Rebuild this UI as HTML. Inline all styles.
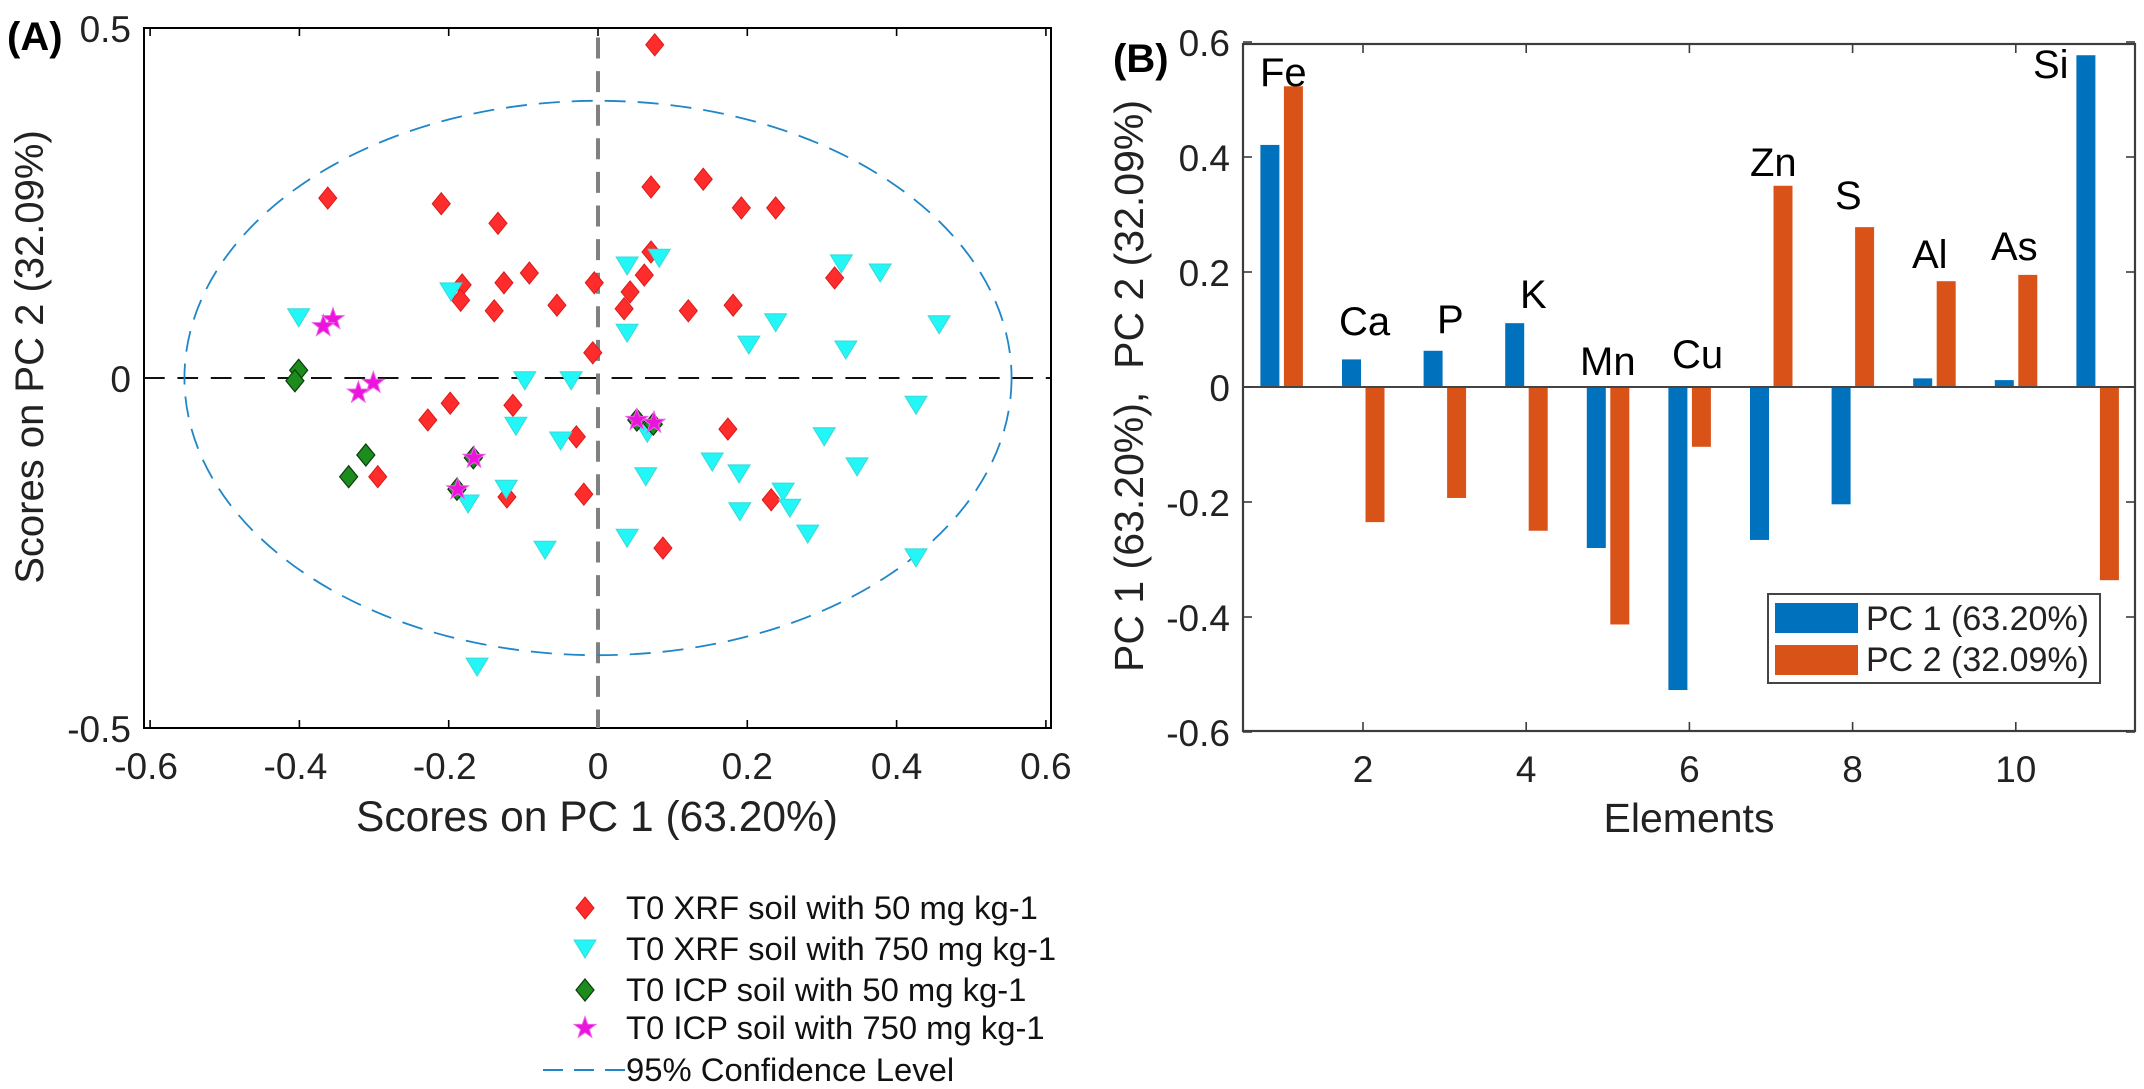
<!DOCTYPE html>
<html lang="en">
<head>
<meta charset="utf-8">
<title>PCA scores and loadings</title>
<style>
html,body{margin:0;padding:0;background:#fff;}
svg{display:block;}
text{font-family:"Liberation Sans",Arial,sans-serif;fill:#111;white-space:pre;}
.tick{font-size:37px;fill:#222;}
.axl{font-size:42px;fill:#222;}
.lbl{font-size:40px;fill:#000;}
.leg{font-size:32.8px;fill:#111;}
.pcl{font-size:34px;fill:#222;}
.pan{font-size:40px;font-weight:bold;fill:#000;}
</style>
</head>
<body>
<svg id="fig" width="2144" height="1089" viewBox="0 0 2144 1089" xmlns="http://www.w3.org/2000/svg">
  <rect width="2144" height="1089" fill="#fff"/>
  <g id="panelA"></g>
  <g id="panelB"></g>

  <text class="pan" x="7" y="50">(A)</text>
  <text class="pan" x="1113" y="72">(B)</text>

  <text class="axl" x="597" y="831" text-anchor="middle" style="font-size:42.5px">Scores on PC 1 (63.20%)</text>
  <text class="axl" transform="translate(43,357) rotate(-90)" text-anchor="middle" style="font-size:40px">Scores on PC 2 (32.09%)</text>
  <text class="axl" x="1689" y="832" text-anchor="middle" style="font-size:41px">Elements</text>
  <text class="axl" transform="translate(1143,386) rotate(-90)" text-anchor="middle" style="font-size:41px">PC 1 (63.20%),  PC 2 (32.09%)</text>

  <g>
    <text class="lbl" x="1260" y="86">Fe</text>
    <text class="lbl" x="1339" y="335">Ca</text>
    <text class="lbl" x="1437" y="333">P</text>
    <text class="lbl" x="1520" y="308">K</text>
    <text class="lbl" x="1580" y="375">Mn</text>
    <text class="lbl" x="1672" y="368">Cu</text>
    <text class="lbl" x="1750" y="176">Zn</text>
    <text class="lbl" x="1835" y="209">S</text>
    <text class="lbl" x="1912" y="268">Al</text>
    <text class="lbl" x="1991" y="260">As</text>
    <text class="lbl" x="2033" y="78">Si</text>
  </g>

  <g id="legendA">
    <text class="leg" x="626" y="919">T0 XRF soil with 50 mg kg-1</text>
    <text class="leg" x="626" y="960">T0 XRF soil with 750 mg kg-1</text>
    <text class="leg" x="626" y="1001">T0 ICP soil with 50 mg kg-1</text>
    <text class="leg" x="626" y="1039">T0 ICP soil with 750 mg kg-1</text>
    <text class="leg" x="626" y="1081">95% Confidence Level</text>
    <line x1="543" y1="1070" x2="625" y2="1070" stroke="#1f86c8" stroke-width="2" stroke-dasharray="20 11"/>
  </g>

  <g id="legendB">
    <rect x="1768" y="594" width="332" height="89" fill="#fff" stroke="#444" stroke-width="2"/>
    <rect x="1775" y="603" width="83" height="30" fill="#0072BD"/>
    <rect x="1775" y="645" width="83" height="30" fill="#D95319"/>
    <text class="pcl" x="1866" y="630">PC 1 (63.20%)</text>
    <text class="pcl" x="1866" y="671">PC 2 (32.09%)</text>
  </g>
</svg>

<script>
// ---- Panel A data (PC1, PC2 scores) ----
const xrf50X = [0.076,-0.362,-0.210,-0.134,0.071,0.141,0.192,0.238,0.071,0.062,0.043,0.035,-0.092,-0.126,-0.182,-0.184,-0.005,-0.139,-0.055,0.121,0.181,0.317,-0.007,-0.198,-0.114,-0.228,-0.029,0.174,-0.295,-0.122,-0.019,0.232,0.087];
const xrf50Y = [0.476,0.257,0.249,0.221,0.273,0.284,0.243,0.243,0.180,0.147,0.123,0.099,0.150,0.136,0.133,0.111,0.136,0.096,0.104,0.096,0.104,0.143,0.036,-0.036,-0.039,-0.060,-0.084,-0.073,-0.141,-0.170,-0.166,-0.174,-0.243];
const xrf750X = [0.039,0.082,-0.197,0.039,0.202,-0.098,-0.036,-0.110,-0.050,0.066,0.153,0.189,0.064,-0.123,-0.174,0.190,0.039,-0.401,-0.162,0.326,0.378,0.457,0.238,0.332,0.426,0.303,0.347,0.248,0.257,0.281,0.426,-0.071];
const xrf750Y = [0.160,0.171,0.123,0.064,0.047,-0.004,-0.004,-0.069,-0.090,-0.079,-0.120,-0.137,-0.141,-0.159,-0.180,-0.191,-0.229,0.086,-0.413,0.163,0.150,0.076,0.079,0.040,-0.039,-0.084,-0.127,-0.163,-0.186,-0.223,-0.257,-0.246];
const icp50X = [-0.401,-0.406,-0.311,-0.334,-0.167,-0.189,0.052,0.074];
const icp50Y = [0.011,-0.004,-0.110,-0.141,-0.114,-0.159,-0.060,-0.066];
const icp750X = [-0.355,-0.368,-0.301,-0.321,-0.166,-0.188,0.052,0.075];
const icp750Y = [0.084,0.074,-0.007,-0.021,-0.114,-0.159,-0.060,-0.064];
const ellipseSemiAxes = [0.554, 0.396];
const scoreXTicks = [-0.6,-0.4,-0.2,0,0.2,0.4,0.6];
const scoreXTickLabels = ["-0.6","-0.4","-0.2","0","0.2","0.4","0.6"];
const scoreYTicks = [0.5,0,-0.5];
const scoreYTickLabels = ["0.5","0","-0.5"];

// ---- Panel B data ----
const elementIndex = [1,2,3,4,5,6,7,8,9,10,11];
const pc1Loadings = [0.421,0.048,0.063,0.111,-0.280,-0.527,-0.266,-0.204,0.015,0.012,0.577];
const pc2Loadings = [0.523,-0.235,-0.193,-0.250,-0.413,-0.104,0.350,0.278,0.184,0.195,-0.336];
const loadXTicks = [2,4,6,8,10];
const loadXTickLabels = ["2","4","6","8","10"];
const loadYTicks = [0.6,0.4,0.2,0,-0.2,-0.4,-0.6];
const loadYTickLabels = ["0.6","0.4","0.2","0","-0.2","-0.4","-0.6"];

const NS = "http://www.w3.org/2000/svg";
const svg = document.getElementById("fig");
const gA = document.getElementById("panelA");
const gB = document.getElementById("panelB");
const legendA = document.getElementById("legendA");

function make(tag, parent) {
  const el = document.createElementNS(NS, tag);
  parent.appendChild(el);
  return el;
}
function setStyle(el, fill, stroke, sw) {
  el.setAttribute("fill", fill);
  if (stroke) { el.setAttribute("stroke", stroke); el.setAttribute("stroke-width", sw); }
}

// Axis functions
const A = {l:144, r:1051, t:28, b:728};
function ax(v){ return 598 + 746.5 * v; }
function ay(v){ return 378 - 700 * v; }
const B = {l:1243, r:2135, t:44, b:731};
function bx(v){ return 1363 + 81.6 * (v - 2); }
function by(v){ return 387 - 575 * v; }

// Marker shape builders
function diamondPts(cx, cy){
  return [[cx,cy-11],[cx+9,cy],[cx,cy+11],[cx-9,cy]].map(p=>p.join(",")).join(" ");
}
function trianglePts(cx, cy){
  return [[cx-11,cy-9],[cx+11,cy-9],[cx,cy+9]].map(p=>p.join(",")).join(" ");
}
function starPts(cx, cy){
  const out = [];
  for (let i = 0; i < 10; i++) {
    const r = i % 2 ? 4.6 : 11.5;
    const a = -Math.PI/2 + i * Math.PI/5;
    out.push((cx + r*Math.cos(a)).toFixed(1) + "," + (cy + r*Math.sin(a)).toFixed(1));
  }
  return out.join(" ");
}

// Panel A frame
const frameA = make("rect", gA);


frameA.setAttribute("x", A.l); frameA.setAttribute("y", A.t);
frameA.setAttribute("width", A.r - A.l); frameA.setAttribute("height", A.b - A.t);
setStyle(frameA, "none", "#000", 2);

scoreXTicks.forEach((v, i) => {
  const t1 = make("line", gA);
  
  
  t1.setAttribute("x1", ax(v)); t1.setAttribute("x2", ax(v));
  t1.setAttribute("y1", A.b); t1.setAttribute("y2", A.b - 8);
  t1.setAttribute("stroke", "#000"); t1.setAttribute("stroke-width", 1.6);
  const t2 = make("line", gA);
  
  
  t2.setAttribute("x1", ax(v)); t2.setAttribute("x2", ax(v));
  t2.setAttribute("y1", A.t); t2.setAttribute("y2", A.t + 8);
  t2.setAttribute("stroke", "#000"); t2.setAttribute("stroke-width", 1.6);
  const lab = make("text", gA);
  
  
  lab.setAttribute("class", "tick");
  lab.setAttribute("x", ax(v) - (v < 0 ? 4 : 0));
  lab.setAttribute("y", 779);
  lab.setAttribute("text-anchor", "middle");
  lab.textContent = scoreXTickLabels[i];
});
scoreYTicks.forEach((v, i) => {
  const lab = make("text", gA);
  
  
  lab.setAttribute("class", "tick");
  lab.setAttribute("x", 131);
  lab.setAttribute("y", ay(v) + 14);
  lab.setAttribute("text-anchor", "end");
  lab.textContent = scoreYTickLabels[i];
});

// Reference lines
const zeroH = make("line", gA);


zeroH.setAttribute("x1", A.l); zeroH.setAttribute("x2", A.r);
zeroH.setAttribute("y1", ay(0)); zeroH.setAttribute("y2", ay(0));
zeroH.setAttribute("stroke", "#111"); zeroH.setAttribute("stroke-width", 2);
zeroH.setAttribute("stroke-dasharray", "20.7 12.7");

const zeroV = make("line", gA);


zeroV.setAttribute("x1", ax(0)); zeroV.setAttribute("x2", ax(0));
zeroV.setAttribute("y1", 37.5); zeroV.setAttribute("y2", A.b);
zeroV.setAttribute("stroke", "#808080"); zeroV.setAttribute("stroke-width", 4);
zeroV.setAttribute("stroke-dasharray", "21 12.6");

const ell = make("ellipse", gA);


ell.setAttribute("cx", ax(0)); ell.setAttribute("cy", ay(0));
ell.setAttribute("rx", ellipseSemiAxes[0] * 746.5);
ell.setAttribute("ry", ellipseSemiAxes[1] * 700);
ell.setAttribute("fill", "none");
ell.setAttribute("stroke", "#1f86c8"); ell.setAttribute("stroke-width", 1.8);
ell.setAttribute("stroke-dasharray", "21 12");

// Scatter series
xrf50X.forEach((v, i) => {
  const m = make("polygon", gA);
  
  
  m.setAttribute("points", diamondPts(ax(v), ay(xrf50Y[i])));
  setStyle(m, "#ff2c2c", "#dc1a1a", 1);
});
xrf750X.forEach((v, i) => {
  const m = make("polygon", gA);
  
  
  m.setAttribute("points", trianglePts(ax(v), ay(xrf750Y[i])));
  setStyle(m, "#22f6f6", "#3fd8d8", 1);
});
icp50X.forEach((v, i) => {
  const m = make("polygon", gA);
  
  
  m.setAttribute("points", diamondPts(ax(v), ay(icp50Y[i])));
  setStyle(m, "#1c8c1c", "#0c3c0c", 1.2);
});
icp750X.forEach((v, i) => {
  const m = make("polygon", gA);
  
  
  m.setAttribute("points", starPts(ax(v), ay(icp750Y[i])));
  setStyle(m, "#ea14dc", "#f060e8", 1);
});

// Legend keys for panel A
const keyRed = make("polygon", legendA);


keyRed.setAttribute("points", diamondPts(585, 908));
setStyle(keyRed, "#ff2c2c", "#dc1a1a", 1);
const keyCyan = make("polygon", legendA);


keyCyan.setAttribute("points", trianglePts(585, 949));
setStyle(keyCyan, "#22f6f6", "#3fd8d8", 1);
const keyGreen = make("polygon", legendA);


keyGreen.setAttribute("points", diamondPts(585, 990));
setStyle(keyGreen, "#1c8c1c", "#0c3c0c", 1.2);
const keyStar = make("polygon", legendA);


keyStar.setAttribute("points", starPts(585, 1028));
setStyle(keyStar, "#ea14dc", "#f060e8", 1);

// Panel B bars
elementIndex.forEach((e, i) => {
  const b1 = make("rect", gB);
  
  
  b1.setAttribute("x", bx(e) - 21);
  b1.setAttribute("width", 19);
  b1.setAttribute("y", Math.min(by(0), by(pc1Loadings[i])));
  b1.setAttribute("height", Math.abs(by(pc1Loadings[i]) - by(0)));
  b1.setAttribute("fill", "#0072BD");
  const b2 = make("rect", gB);
  
  
  b2.setAttribute("x", bx(e) + 2.5);
  b2.setAttribute("width", 19);
  b2.setAttribute("y", Math.min(by(0), by(pc2Loadings[i])));
  b2.setAttribute("height", Math.abs(by(pc2Loadings[i]) - by(0)));
  b2.setAttribute("fill", "#D95319");
});

// Panel B frame and axes
const frameB = make("rect", gB);


frameB.setAttribute("x", B.l); frameB.setAttribute("y", B.t);
frameB.setAttribute("width", B.r - B.l); frameB.setAttribute("height", B.b - B.t);
setStyle(frameB, "none", "#3c3c3c", 2.2);

const baseB = make("line", gB);


baseB.setAttribute("x1", B.l); baseB.setAttribute("x2", B.r);
baseB.setAttribute("y1", by(0)); baseB.setAttribute("y2", by(0));
baseB.setAttribute("stroke", "#444"); baseB.setAttribute("stroke-width", 2);

loadXTicks.forEach((v, i) => {
  const t1 = make("line", gB);
  
  
  t1.setAttribute("x1", bx(v)); t1.setAttribute("x2", bx(v));
  t1.setAttribute("y1", B.b); t1.setAttribute("y2", B.b - 9);
  t1.setAttribute("stroke", "#3c3c3c"); t1.setAttribute("stroke-width", 1.6);
  const t2 = make("line", gB);
  
  
  t2.setAttribute("x1", bx(v)); t2.setAttribute("x2", bx(v));
  t2.setAttribute("y1", B.t); t2.setAttribute("y2", B.t + 9);
  t2.setAttribute("stroke", "#3c3c3c"); t2.setAttribute("stroke-width", 1.6);
  const lab = make("text", gB);
  
  
  lab.setAttribute("class", "tick");
  lab.setAttribute("x", bx(v));
  lab.setAttribute("y", 782);
  lab.setAttribute("text-anchor", "middle");
  lab.textContent = loadXTickLabels[i];
});
loadYTicks.forEach((v, i) => {
  const t1 = make("line", gB);
  
  
  t1.setAttribute("x1", B.l); t1.setAttribute("x2", B.l + 9);
  t1.setAttribute("y1", by(v)); t1.setAttribute("y2", by(v));
  t1.setAttribute("stroke", "#3c3c3c"); t1.setAttribute("stroke-width", 1.6);
  const t2 = make("line", gB);
  
  
  t2.setAttribute("x1", B.r); t2.setAttribute("x2", B.r - 9);
  t2.setAttribute("y1", by(v)); t2.setAttribute("y2", by(v));
  t2.setAttribute("stroke", "#3c3c3c"); t2.setAttribute("stroke-width", 1.6);
  const lab = make("text", gB);
  
  
  lab.setAttribute("class", "tick");
  lab.setAttribute("x", 1230);
  lab.setAttribute("y", by(v) + 14);
  lab.setAttribute("text-anchor", "end");
  lab.textContent = loadYTickLabels[i];
});

// Keep the B legend above bars and frame
svg.appendChild(document.getElementById("legendB"));
</script>
</body>
</html>
